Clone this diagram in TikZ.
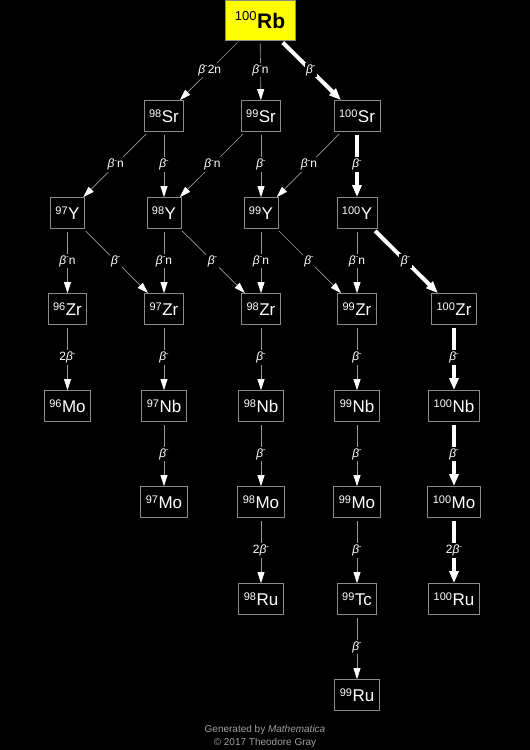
\documentclass[tikz,border=0pt]{standalone}
\usepackage{fontspec}
\setmainfont{Liberation Sans}
\usetikzlibrary{arrows.meta}
\definecolor{edgegray}{HTML}{999999}
\definecolor{boxgray}{HTML}{8A8A8A}
\definecolor{footgray}{HTML}{A0A0A0}
\definecolor{rbyellow}{HTML}{FFFF00}
\newcommand{\iso}[2]{{\fontsize{11}{11}\selectfont\raisebox{5.5pt}{#1}}\kern0.5pt{\fontsize{17}{17}\selectfont #2}}
\newcommand{\bmi}{{\itshape β}\kern-0.3pt\raisebox{4.5pt}{\fontsize{8.5}{8.5}\selectfont -}}
\tikzset{
  isobox/.style={draw=boxgray, line width=0.8pt, text=white, inner xsep=5pt, inner ysep=0pt, minimum height=31pt},
  thinarr/.style={draw=edgegray, line width=0.7pt, -{Triangle[length=11pt,width=7pt,color=white]}, shorten <=3pt},
  thickarr/.style={draw=white, line width=4pt, -{Triangle[length=12pt,width=9pt]}, shorten <=3pt},
  lab/.style={midway, fill=black, text=white, inner sep=1.5pt, font=\fontsize{12}{12}\selectfont},
  foot/.style={text=footgray, font=\fontsize{10}{10}\selectfont}
}
\begin{document}
\begin{tikzpicture}[x=1pt,y=-1pt]
\fill[black] (0,0) rectangle (530,750);
\useasboundingbox (0,0) rectangle (530,750);
% columns 67.5 164 261 357 454 ; rows 20 116 213 309 406 502 599 695
\node[draw=boxgray, line width=0.8pt, fill=rbyellow, text=black, minimum width=70pt, minimum height=40pt, inner sep=0pt] (rb) at (260,20)
  {{\fontsize{13}{13}\selectfont\raisebox{8pt}{100}}\kern0.5pt{\fontsize{21}{21}\selectfont\bfseries Rb}};
\node[isobox] (sr98) at (164,116) {\iso{98}{Sr}};
\node[isobox] (sr99) at (261,116) {\iso{99}{Sr}};
\node[isobox] (sr100) at (357,116) {\iso{100}{Sr}};
\node[isobox] (y97) at (67.5,213) {\iso{97}{Y}};
\node[isobox] (y98) at (164,213) {\iso{98}{Y}};
\node[isobox] (y99) at (261,213) {\iso{99}{Y}};
\node[isobox] (y100) at (357,213) {\iso{100}{Y}};
\node[isobox] (zr96) at (67.5,309) {\iso{96}{Zr}};
\node[isobox] (zr97) at (164,309) {\iso{97}{Zr}};
\node[isobox] (zr98) at (261,309) {\iso{98}{Zr}};
\node[isobox] (zr99) at (357,309) {\iso{99}{Zr}};
\node[isobox] (zr100) at (454,309) {\iso{100}{Zr}};
\node[isobox] (mo96) at (67.5,406) {\iso{96}{Mo}};
\node[isobox] (nb97) at (164,406) {\iso{97}{Nb}};
\node[isobox] (nb98) at (261,406) {\iso{98}{Nb}};
\node[isobox] (nb99) at (357,406) {\iso{99}{Nb}};
\node[isobox] (nb100) at (454,406) {\iso{100}{Nb}};
\node[isobox] (mo97) at (164,502) {\iso{97}{Mo}};
\node[isobox] (mo98) at (261,502) {\iso{98}{Mo}};
\node[isobox] (mo99) at (357,502) {\iso{99}{Mo}};
\node[isobox] (mo100) at (454,502) {\iso{100}{Mo}};
\node[isobox] (ru98) at (261,599) {\iso{98}{Ru}};
\node[isobox] (tc99) at (357,599) {\iso{99}{Tc}};
\node[isobox] (ru100) at (454,599) {\iso{100}{Ru}};
\node[isobox] (ru99) at (357,695) {\iso{99}{Ru}};
% edges
\draw[thinarr] (rb) -- (sr98) node[lab] {\bmi 2n};
\draw[thinarr] (rb) -- (sr99) node[lab] {\bmi n};
\draw[thickarr] (rb) -- (sr100) node[lab] {\bmi};
\draw[thinarr] (sr98) -- (y97) node[lab] {\bmi n};
\draw[thinarr] (sr98) -- (y98) node[lab] {\bmi};
\draw[thinarr] (sr99) -- (y98) node[lab] {\bmi n};
\draw[thinarr] (sr99) -- (y99) node[lab] {\bmi};
\draw[thinarr] (sr100) -- (y99) node[lab] {\bmi n};
\draw[thickarr] (sr100) -- (y100) node[lab] {\bmi};
\draw[thinarr] (y97) -- (zr96) node[lab] {\bmi n};
\draw[thinarr] (y97) -- (zr97) node[lab] {\bmi};
\draw[thinarr] (y98) -- (zr97) node[lab] {\bmi n};
\draw[thinarr] (y98) -- (zr98) node[lab] {\bmi};
\draw[thinarr] (y99) -- (zr98) node[lab] {\bmi n};
\draw[thinarr] (y99) -- (zr99) node[lab] {\bmi};
\draw[thinarr] (y100) -- (zr99) node[lab] {\bmi n};
\draw[thickarr] (y100) -- (zr100) node[lab] {\bmi};
\draw[thinarr] (zr96) -- (mo96) node[lab] {2\bmi};
\draw[thinarr] (zr97) -- (nb97) node[lab] {\bmi};
\draw[thinarr] (nb97) -- (mo97) node[lab] {\bmi};
\draw[thinarr] (zr98) -- (nb98) node[lab] {\bmi};
\draw[thinarr] (nb98) -- (mo98) node[lab] {\bmi};
\draw[thinarr] (mo98) -- (ru98) node[lab] {2\bmi};
\draw[thinarr] (zr99) -- (nb99) node[lab] {\bmi};
\draw[thinarr] (nb99) -- (mo99) node[lab] {\bmi};
\draw[thinarr] (mo99) -- (tc99) node[lab] {\bmi};
\draw[thinarr] (tc99) -- (ru99) node[lab] {\bmi};
\draw[thickarr] (zr100) -- (nb100) node[lab] {\bmi};
\draw[thickarr] (nb100) -- (mo100) node[lab] {\bmi};
\draw[thickarr] (mo100) -- (ru100) node[lab] {2\bmi};
% footer
\node[foot] (gen) at (265,730) {Generated by \textit{Mathematica}};
\node[foot] (copy) at (265,743) {© 2017 Theodore Gray};
\end{tikzpicture}
\end{document}
